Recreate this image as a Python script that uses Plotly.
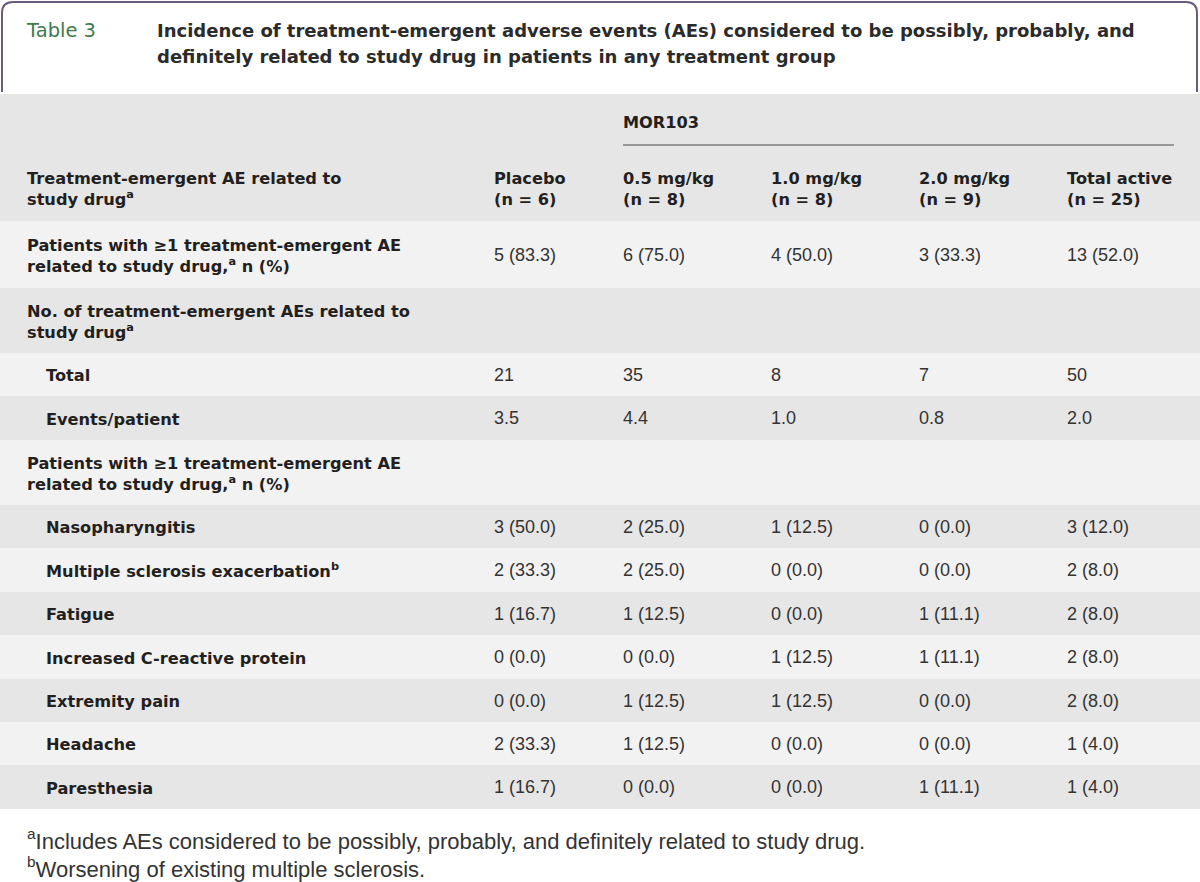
import plotly.graph_objects as go

# ---------------- data ----------------
table_label = "Table 3"
title_lines = [
    "Incidence of treatment-emergent adverse events (AEs) considered to be possibly, probably, and",
    "definitely related to study drug in patients in any treatment group",
]
group_label = "MOR103"
col_headers = [
    "Placebo<br>(n = 6)",
    "0.5 mg/kg<br>(n = 8)",
    "1.0 mg/kg<br>(n = 8)",
    "2.0 mg/kg<br>(n = 9)",
    "Total active<br>(n = 25)",
]
stub_header = "Treatment-emergent AE related to<br>study drug<sup>a</sup>"

row_labels = [
    "Patients with ≥1 treatment-emergent AE<br>related to study drug,<sup>a</sup> n (%)",
    "No. of treatment-emergent AEs related to<br>study drug<sup>a</sup>",
    "Total",
    "Events/patient",
    "Patients with ≥1 treatment-emergent AE<br>related to study drug,<sup>a</sup> n (%)",
    "Nasopharyngitis",
    "Multiple sclerosis exacerbation<sup>b</sup>",
    "Fatigue",
    "Increased C-reactive protein",
    "Extremity pain",
    "Headache",
    "Paresthesia",
]
row_indent = [0, 0, 1, 1, 0, 1, 1, 1, 1, 1, 1, 1]

placebo = ["5 (83.3)", "", "21", "3.5", "", "3 (50.0)", "2 (33.3)", "1 (16.7)", "0 (0.0)", "0 (0.0)", "2 (33.3)", "1 (16.7)"]
dose_05 = ["6 (75.0)", "", "35", "4.4", "", "2 (25.0)", "2 (25.0)", "1 (12.5)", "0 (0.0)", "1 (12.5)", "1 (12.5)", "0 (0.0)"]
dose_10 = ["4 (50.0)", "", "8", "1.0", "", "1 (12.5)", "0 (0.0)", "0 (0.0)", "1 (12.5)", "1 (12.5)", "0 (0.0)", "0 (0.0)"]
dose_20 = ["3 (33.3)", "", "7", "0.8", "", "0 (0.0)", "0 (0.0)", "1 (11.1)", "1 (11.1)", "0 (0.0)", "0 (0.0)", "1 (11.1)"]
total_active = ["13 (52.0)", "", "50", "2.0", "", "3 (12.0)", "2 (8.0)", "2 (8.0)", "2 (8.0)", "2 (8.0)", "1 (4.0)", "1 (4.0)"]

footnotes = [
    "<sup>a</sup>Includes AEs considered to be possibly, probably, and definitely related to study drug.",
    "<sup>b</sup>Worsening of existing multiple sclerosis.",
]

# ---------------- layout geometry ----------------
W, H = 1200, 882
header_top, header_bot = 94, 221
row_edges = [221, 288, 353, 396, 440, 505, 548, 592, 635, 679, 722, 765, 809]
col_x = [494, 623, 771, 919, 1067]
stub_x = 27
indent_x = 46

GRAY = "#e6e6e6"
LIGHT = "#f2f2f2"
TEXT = "#231f20"
LABEL_FONT = "DejaVu Sans"
VALUE_FONT = "Liberation Sans, Arial"
LBL_SIZE = 16.2

fig = go.Figure()
shapes = []

shapes.append(dict(type="rect", xref="x", yref="y", x0=0, x1=W, y0=header_top, y1=header_bot,
                   fillcolor=GRAY, line_width=0, layer="below"))
for i in range(len(row_labels)):
    shapes.append(dict(type="rect", xref="x", yref="y", x0=0, x1=W,
                       y0=row_edges[i], y1=row_edges[i + 1],
                       fillcolor=LIGHT if i % 2 == 0 else GRAY, line_width=0, layer="below"))
shapes.append(dict(type="line", xref="x", yref="y", x0=col_x[1], x1=1174, y0=145, y1=145,
                   line=dict(color="#4a4a4a", width=1.2)))
shapes.append(dict(type="path", xref="x", yref="y",
                   path="M 2,92 L 2,13 Q 2,2 13,2 L 1186,2 Q 1197,2 1197,13 L 1197,92",
                   line=dict(color="#6b5a7c", width=2)))


def add_text(xs, ys, texts, family, size, color, weight=None):
    keep = [(x, y, t) for x, y, t in zip(xs, ys, texts) if t]
    if not keep:
        return
    font = dict(family=family, size=size, color=color)
    if weight:
        font["weight"] = weight
    fig.add_trace(go.Scatter(x=[k[0] for k in keep], y=[k[1] for k in keep],
                             text=[k[2] for k in keep], mode="text",
                             textposition="middle right", textfont=font, hoverinfo="skip"))


# title
add_text([stub_x], [32], [table_label], LABEL_FONT, 19.5, "#3f7a4f")
add_text([157, 157], [32, 58], title_lines, LABEL_FONT, 18, "#2b2b2b", "bold")

# header
add_text([col_x[1]], [124], [group_label], LABEL_FONT, LBL_SIZE, TEXT, "bold")
add_text([stub_x] + col_x, [190] * 6, [stub_header] + col_headers, LABEL_FONT, LBL_SIZE, TEXT, "bold")

# body labels
centers = [(row_edges[i] + row_edges[i + 1]) / 2 + 2.5 for i in range(len(row_labels))]
add_text([indent_x if ind else stub_x for ind in row_indent], centers, row_labels,
         LABEL_FONT, LBL_SIZE, TEXT, "bold")

# values
for cx, col in zip(col_x, [placebo, dose_05, dose_10, dose_20, total_active]):
    add_text([cx] * len(col), [c - 1 for c in centers], col, VALUE_FONT, 18, "#333333")

# footnotes
add_text([stub_x, stub_x], [843, 871], footnotes, VALUE_FONT, 22, "#333333")

fig.update_layout(
    width=W, height=H, margin=dict(l=0, r=0, t=0, b=0),
    paper_bgcolor="white", plot_bgcolor="white", showlegend=False,
    xaxis=dict(range=[0, W], visible=False, fixedrange=True),
    yaxis=dict(range=[H, 0], visible=False, fixedrange=True),
    shapes=shapes,
)
fig.write_html("out.html", config={"displayModeBar": False},
               post_script="document.body.style.margin='0';document.body.style.overflow='hidden';")
